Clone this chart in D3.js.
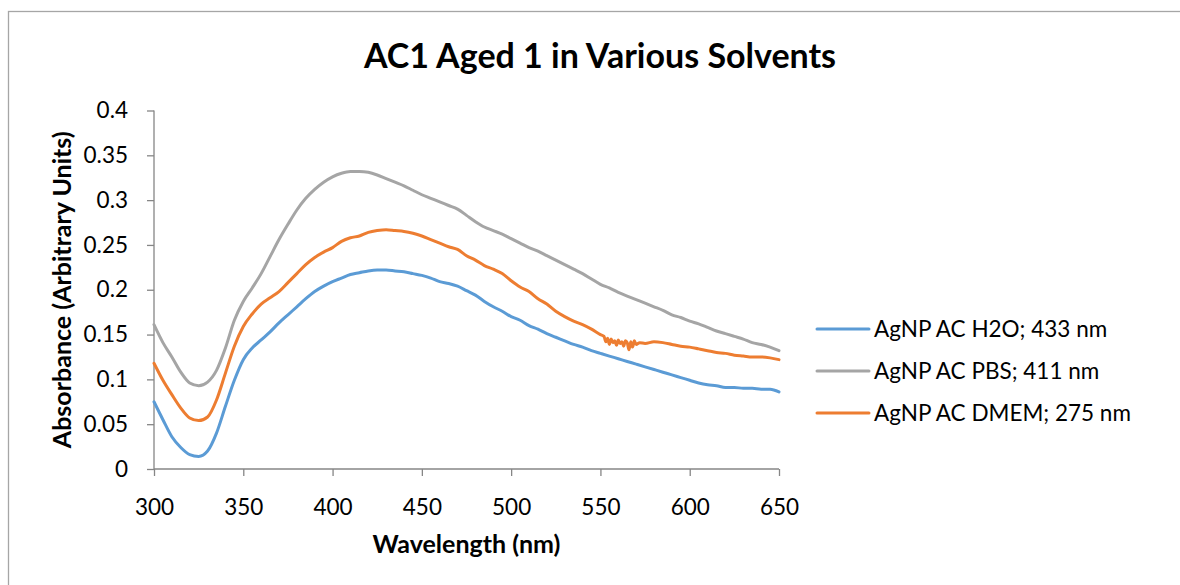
<!DOCTYPE html>
<html>
<head>
<meta charset="utf-8">
<script src="https://cdn.jsdelivr.net/npm/d3@7"></script>
<style>
  html, body { margin: 0; padding: 0; background: #fff; }
  svg { display: block; font-family: Lato, "Open Sans", "Liberation Sans", sans-serif; }
</style>
</head>
<body>
<svg id="chart" width="1180" height="585"></svg>
<script>
// Wavelength grid (nm) shared by the smooth parts of the spectra
const wavelengths = [
  300,305,310,315,320,325,330,335,340,345,350,355,360,365,370,375,380,385,390,395,
  400,405,410,415,420,425,430,435,440,445,450,455,460,465,470,475,480,485,490,495,
  500,505,510,515,520,525,530,535,540,545,550,555,560,565,570,575,580,585,590,595,
  600,605,610,615,620,625,630,635,640,645,650
];

// Absorbance, AgNP AC in water
const h2oValues = [
  0.075,0.055,0.036,0.024,0.016,0.014,0.020,0.040,0.070,0.099,0.122,0.135,0.144,0.153,0.163,0.172,0.181,0.190,0.198,0.204,
  0.209,0.213,0.217,0.219,0.221,0.222,0.222,0.221,0.220,0.218,0.216,0.213,0.209,0.207,0.204,0.199,0.194,0.187,0.181,0.176,
  0.170,0.166,0.160,0.156,0.151,0.147,0.143,0.139,0.136,0.132,0.129,0.126,0.123,0.120,0.117,0.114,0.111,0.108,0.105,0.102,
  0.099,0.096,0.094,0.093,0.091,0.091,0.090,0.090,0.089,0.089,0.086
];

// Absorbance, AgNP AC in PBS
const pbsValues = [
  0.161,0.141,0.125,0.108,0.096,0.093,0.097,0.110,0.135,0.166,0.187,0.202,0.218,0.237,0.256,0.273,0.289,0.302,0.312,0.320,
  0.326,0.330,0.332,0.332,0.331,0.328,0.324,0.320,0.316,0.311,0.306,0.302,0.298,0.294,0.290,0.283,0.276,0.270,0.266,0.262,
  0.257,0.252,0.247,0.243,0.238,0.233,0.228,0.223,0.218,0.212,0.206,0.202,0.197,0.193,0.189,0.185,0.181,0.177,0.172,0.169,
  0.165,0.162,0.158,0.154,0.151,0.148,0.145,0.141,0.139,0.136,0.132
];

// Absorbance, AgNP AC in DMEM (noisy stretch around 550-575 nm sampled more finely)
const dmemWavelengths = [
  300,305,310,315,320,325,330,335,340,345,350,355,360,365,370,375,380,385,390,395,
  400,405,410,415,420,425,430,435,440,445,450,455,460,465,470,475,480,485,490,495,
  500,505,510,515,520,525,530,535,540,545,550,552,553,554,555,556,557,558,559,560,
  561,562,563,564,565,566,567,568,569,570,572,575,580,585,590,595,
  600,605,610,615,620,625,630,635,640,645,650
];
const dmemValues = [
  0.118,0.099,0.083,0.068,0.057,0.054,0.058,0.077,0.107,0.137,0.159,0.173,0.184,0.191,0.198,0.208,0.218,0.228,0.236,0.242,
  0.247,0.254,0.258,0.260,0.264,0.266,0.267,0.266,0.265,0.263,0.260,0.256,0.252,0.248,0.245,0.238,0.233,0.227,0.223,0.218,
  0.210,0.203,0.198,0.190,0.184,0.176,0.170,0.165,0.161,0.156,0.150,0.148,0.142,0.146,0.139,0.145,0.141,0.143,0.138,0.144,
  0.140,0.142,0.137,0.143,0.141,0.133,0.142,0.136,0.143,0.139,0.141,0.140,0.142,0.141,0.139,0.137,
  0.136,0.134,0.132,0.130,0.129,0.127,0.126,0.125,0.125,0.124,0.122
];

const seriesNames = ["AgNP AC H2O; 433 nm", "AgNP AC PBS; 411 nm", "AgNP AC DMEM; 275 nm"];
const seriesColors = ["#5B9BD5", "#A5A5A5", "#ED7D31"];

const xTicks = [300,350,400,450,500,550,600,650];
const yTicks = [0,0.05,0.1,0.15,0.2,0.25,0.3,0.35,0.4];

const titleText = "AC1 Aged 1 in Various Solvents";
const xTitle = "Wavelength (nm)";
const yTitle = "Absorbance (Arbitrary Units)";

const series = [
  { name: seriesNames[0], color: seriesColors[0], pts: wavelengths.map((w, i) => [w, h2oValues[i]]) },
  { name: seriesNames[1], color: seriesColors[1], pts: wavelengths.map((w, i) => [w, pbsValues[i]]) },
  { name: seriesNames[2], color: seriesColors[2], pts: dmemWavelengths.map((w, i) => [w, dmemValues[i]]) }
];

const svg = d3.select("#chart");
const plot = { left: 154, right: 779, top: 110.5, bottom: 469 };
const labelFont = "Lato, 'Open Sans', sans-serif";

// outer chart frame
svg.append("rect")
  .attr("x", 8.5).attr("y", 11.5)
  .attr("width", 1180).attr("height", 600)
  .attr("fill", "none").attr("stroke", "#A6A6A6").attr("stroke-width", 1.3);

const x = d3.scaleLinear().domain([300, 650]).range([plot.left, plot.right]);
const y = d3.scaleLinear().domain([0, 0.4]).range([plot.bottom, plot.top]);

const axisColor = "#868686";

// y axis
const yAxis = svg.append("g")
  .attr("transform", `translate(${plot.left},0)`)
  .call(d3.axisLeft(y).tickValues(yTicks).tickSize(7).tickPadding(19)
    .tickFormat(d => String(+d.toFixed(2))));
// x axis
const xAxis = svg.append("g")
  .attr("transform", `translate(0,${plot.bottom})`)
  .call(d3.axisBottom(x).tickValues(xTicks).tickSize(7).tickPadding(23).tickFormat(d3.format("d")));

[yAxis, xAxis].forEach(g => {
  g.select(".domain").attr("stroke", axisColor).attr("stroke-width", 1.3);
  g.selectAll(".tick line").attr("stroke", axisColor).attr("stroke-width", 1.3);
  g.selectAll(".tick text").attr("fill", "#000")
    .style("font-size", "22.5px").style("font-family", labelFont);
});
// plain axis lines without the outer tick caps
yAxis.select(".domain").attr("d", `M0,${plot.top}V${plot.bottom}`);
xAxis.select(".domain").attr("d", `M${plot.left},0H${plot.right}`);

// spectra
const line = d3.line().x(d => x(d[0])).y(d => y(d[1])).curve(d3.curveMonotoneX);
svg.append("g").selectAll("path")
  .data(series)
  .join("path")
  .attr("d", d => line(d.pts))
  .attr("fill", "none")
  .attr("stroke", d => d.color)
  .attr("stroke-width", 3)
  .attr("stroke-linejoin", "round")
  .attr("stroke-linecap", "round");

// titles
svg.append("text")
  .attr("x", 600).attr("y", 68)
  .attr("text-anchor", "middle")
  .style("font-size", "34px").style("font-weight", "bold")
  .text(titleText);

svg.append("text")
  .attr("x", (plot.left + plot.right) / 2).attr("y", 553)
  .attr("text-anchor", "middle")
  .style("font-size", "25px").style("font-weight", "bold")
  .text(xTitle);

svg.append("text")
  .attr("transform", `translate(71,${(plot.top + plot.bottom) / 2}) rotate(-90)`)
  .attr("text-anchor", "middle")
  .style("font-size", "25px").style("font-weight", "bold")
  .text(yTitle);

// legend
const legend = svg.append("g").attr("transform", "translate(817,329)");
const rows = legend.selectAll("g").data(series).join("g")
  .attr("transform", (d, i) => `translate(0,${i * 42})`);
rows.append("line")
  .attr("x1", 0).attr("x2", 52).attr("y1", 0).attr("y2", 0)
  .attr("stroke", d => d.color).attr("stroke-width", 3).attr("stroke-linecap", "round");
rows.append("text")
  .attr("x", 57).attr("y", 8)
  .style("font-size", "22.5px")
  .text(d => d.name);
</script>
</body>
</html>
